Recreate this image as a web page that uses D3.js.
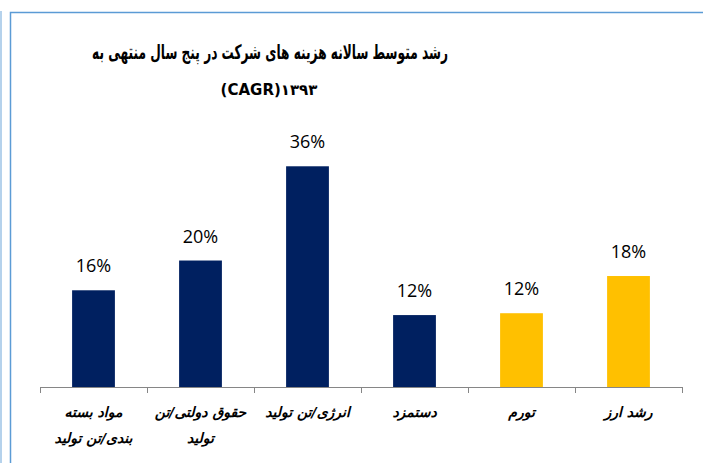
<!DOCTYPE html>
<html>
<head>
<meta charset="utf-8">
<script src="https://cdn.jsdelivr.net/npm/d3@7"></script>
<style>
  html, body { margin: 0; padding: 0; background: #fff; }
  svg { display: block; }
</style>
</head>
<body>
<svg id="chart" width="703" height="463"></svg>
<script>
// data
const categories = ["مواد بسته بندی/تن تولید", "حقوق دولتی/تن تولید", "انرژی/تن تولید", "دستمزد", "تورم", "رشد ارز"];
const tickLabels = [["مواد بسته", "بندی/تن تولید"], ["حقوق دولتی/تن", "تولید"], ["انرژی/تن تولید"], ["دستمزد"], ["تورم"], ["رشد ارز"]];
const values = [0.156, 0.204, 0.356, 0.116, 0.119, 0.179];
const barGroups = ["cost", "cost", "cost", "cost", "macro", "macro"];
const titleLines = ["رشد متوسط سالانه هزینه های شرکت در پنج سال منتهی به", "(CAGR)۱۳۹۳"];

const svg = d3.select("#chart");

// outer frame
svg.append("line")
  .attr("x1", 1).attr("x2", 1).attr("y1", 11).attr("y2", 463)
  .attr("stroke", "#9dc3e6").attr("stroke-width", 1.5);
svg.append("rect")
  .attr("x", 10.5).attr("y", 12.5).attr("width", 720).attr("height", 470)
  .attr("fill", "none").attr("stroke", "#5b9bd5").attr("stroke-width", 1.5);

const baseY = 387;
const x = d3.scaleBand().domain(categories).range([40, 682]).paddingInner(0.6).paddingOuter(0.3);
const y = d3.scaleLinear().domain([0, 0.4]).range([baseY, baseY - 248]);
const color = d3.scaleOrdinal().domain(["cost", "macro"]).range(["#002060", "#ffc000"]);
const pct = d3.format(".0%");

// title (DejaVu's Arabic is wide, so squeeze it horizontally to the original width)
const titleG = svg.append("g").attr("transform", "translate(270,59)");
const title1 = titleG.append("text")
  .attr("text-anchor", "middle")
  .attr("direction", "rtl")
  .style("font-family", "'DejaVu Sans'")
  .style("font-weight", "bold")
  .style("font-size", "20px")
  .attr("fill", "#000")
  .text(titleLines[0]);
const w1 = title1.node().getComputedTextLength();
title1.attr("transform", `scale(${356 / w1},1)`);

svg.append("text")
  .attr("x", 269).attr("y", 95)
  .attr("text-anchor", "middle")
  .style("font-family", "'DejaVu Sans'")
  .style("font-weight", "bold")
  .style("font-size", "15px")
  .attr("fill", "#000")
  .text(titleLines[1]);

// bars
svg.append("g")
  .selectAll("rect")
  .data(categories)
  .join("rect")
  .attr("x", (d) => x(d))
  .attr("y", (d, i) => y(values[i]))
  .attr("width", x.bandwidth())
  .attr("height", (d, i) => baseY - y(values[i]))
  .attr("fill", (d, i) => color(barGroups[i]));

// value labels
svg.append("g")
  .selectAll("text")
  .data(categories)
  .join("text")
  .attr("x", (d) => x(d) + x.bandwidth() / 2)
  .attr("y", (d, i) => y(values[i]) - 18)
  .attr("text-anchor", "middle")
  .style("font-family", "'Open Sans'")
  .style("font-size", "18px")
  .attr("fill", "#000")
  .text((d, i) => pct(values[i]));

// axis line with ticks on category boundaries
const axisG = svg.append("g").attr("transform", `translate(0,${baseY})`);
const xAxis = d3.axisBottom(x).tickSize(0).tickFormat("");
axisG.call(xAxis);
axisG.select(".domain").attr("stroke", "#868686").attr("d", `M40.5,0.5H682.5`);
const edges = categories.map((d) => x(d) - (x.step() * x.paddingInner()) / 2);
edges.push(682);
axisG.selectAll(".edge")
  .data(edges)
  .join("line")
  .attr("class", "edge")
  .attr("x1", (d) => Math.round(d) + 0.5)
  .attr("x2", (d) => Math.round(d) + 0.5)
  .attr("y1", 0)
  .attr("y2", 6)
  .attr("stroke", "#868686");

// category labels
const labelG = svg.append("g");
categories.forEach((c, i) => {
  tickLabels[i].forEach((line, j) => {
    labelG.append("text")
      .attr("x", x(c) + x.bandwidth() / 2)
      .attr("y", 417 + j * 26)
      .attr("text-anchor", "middle")
      .attr("direction", "rtl")
      .style("font-family", "'DejaVu Sans'")
      .style("font-weight", "bold")
      .style("font-style", "italic")
      .style("font-size", "14px")
      .attr("fill", "#000")
      .text(line);
  });
});
</script>
</body>
</html>
